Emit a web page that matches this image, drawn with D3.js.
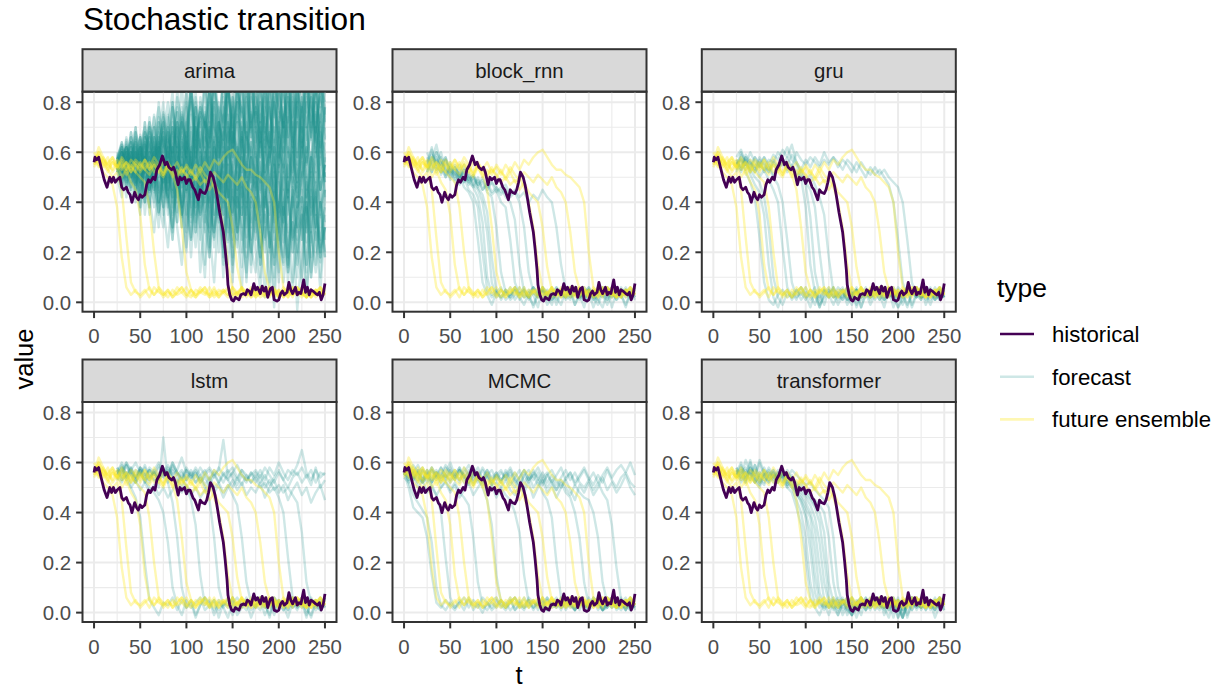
<!DOCTYPE html>
<html>
<head>
<meta charset="utf-8">
<script src="https://cdn.jsdelivr.net/npm/d3@7"></script>
<style>
  body { margin: 0; background: #fff; }
  svg { font-family: "Liberation Sans", Arial, sans-serif; }
</style>
</head>
<body>
<svg id="chart" width="1222" height="688"></svg>
<script>
// facets, in drawing order (row by row)
const panels = ['arima', 'block_rnn', 'gru', 'lstm', 'MCMC', 'transformer'];
const xTicks = [0, 50, 100, 150, 200, 250];
const yTicks = [0, 0.2, 0.4, 0.6, 0.8];
const types = ['historical', 'forecast', 'future ensemble'];
const step = 5; // runs are read every 5 time steps, values in hundredths

// historical series (same in every facet)
const histT = [0,1,3,5,7,9,11,14,17,19,21,23,25,28,30,32,35,37,39,41,44,46,48,50,52,55,57,59,61,64,66,68,71,74,77,79,81,84,86,88,91,93,95,98,100,102,104,107,109,111,113,115,117,120,122,124,126,129,131,133,136,138,140,142,144,145,147,149,151,153,155,157,159,162,164,166,168,170,173,175,177,180,182,184,186,188,191,193,195,198,200,202,204,206,209,211,213,215,218,220,222,224,227,229,231,233,235,237,240,242,244,246,248,250];
const histV = [0.56,0.58,0.57,0.58,0.55,0.52,0.49,0.46,0.50,0.48,0.50,0.48,0.49,0.50,0.46,0.45,0.46,0.44,0.43,0.40,0.44,0.42,0.41,0.43,0.42,0.43,0.47,0.49,0.48,0.50,0.49,0.53,0.55,0.585,0.55,0.56,0.54,0.53,0.54,0.52,0.47,0.50,0.49,0.50,0.475,0.49,0.49,0.46,0.45,0.43,0.41,0.45,0.44,0.435,0.45,0.48,0.52,0.50,0.47,0.43,0.36,0.32,0.28,0.21,0.13,0.07,0.03,0.01,0.005,0.02,0.015,0.01,0.03,0.035,0.03,0.05,0.045,0.03,0.075,0.05,0.06,0.035,0.065,0.045,0.06,0.02,0.055,0.06,0.01,0.005,0.01,0.035,0.045,0.03,0.04,0.08,0.05,0.035,0.06,0.03,0.04,0.035,0.09,0.04,0.06,0.03,0.05,0.045,0.035,0.03,0.04,0.01,0.03,0.075];

// future ensemble runs (same in every facet), t = 0..250
const ensembleRuns = [
  [58,55,52,50,47,38,18,6,3,5, 2,4,6,3,5,2,4,3,6,4, 2,5,3,4,6,2,3,5,4,2, 6,3,4,5,2,3,6,4,3,5, 2,4,6,3,5,3,2,4,5,3, 4],
  [55,60,56,53,50,52,45,26,8,4, 3,5,2,6,4,3,5,2,4,6, 3,2,5,4,3,6,2,4,5,3, 4,2,6,3,5,4,2,3,5,6, 3,4,2,5,3,6,4,2,5,3, 4],
  [60,57,55,58,52,55,50,53,48,45, 35,15,5,3,6,4,2,5,3,4, 6,3,2,5,4,3,6,2,4,5, 3,4,6,2,5,3,4,2,6,3, 5,2,4,3,6,4,2,5,3,4, 3],
  [56,62,58,54,57,53,55,51,54,52, 50,48,38,20,6,3,5,2,4,6, 3,5,2,4,6,3,4,2,5,3, 6,4,2,3,5,4,6,3,2,5, 4,3,5,2,6,3,4,5,2,4, 5],
  [54,58,55,52,56,54,57,53,55,52, 56,53,51,55,52,50,54,51,45,30, 12,5,3,6,4,2,5,3,4,6, 2,4,5,3,6,2,4,3,5,4, 3,6,2,5,4,3,5,2,4,6, 3],
  [57,54,58,55,53,57,54,56,52,55, 53,57,54,58,55,52,56,53,51,54, 50,53,49,52,48,50,46,40,30,15, 5,3,6,4,2,5,3,4,6,3, 2,5,4,3,6,4,2,5,3,4, 5],
  [55,59,54,56,58,55,53,56,54,57, 55,53,56,52,54,51,55,52,50,53, 51,48,50,47,49,45,48,44,42,40, 30,14,5,3,5,2,4,6,3,5, 2,4,3,6,4,2,5,3,4,6, 3],
  [56,60,57,55,58,54,56,53,57,55, 52,55,53,56,54,51,55,53,56,52, 54,51,55,52,56,53,57,55,58,60, 61,58,55,53,53,51,50,48,46,40, 20,6,4,5,3,6,4,2,5,3, 4],
  [58,55,57,53,56,54,58,55,52,56, 54,57,53,55,52,56,54,50,53,51, 55,52,50,54,51,49,52,50,48,51, 49,47,50,46,44,40,28,12,5,3, 5,2,4,6,3,5,2,4,3,6, 4]
];

// forecast runs per model
const forecastStart = [25, 25, 25, 25, 0, 25];

const arimaRuns = [
  [55,62,48,58,45,66,40,60,52,70, 38,65,45,72,35,60,50,78,30,62, 55,80,35,68,42,85,28,70,48,90, 33,75,52,88,25,68,45,82,38,72, 50,85,30,70,45,78],
  [50,42,58,45,60,38,55,35,62,40, 30,55,25,50,38,20,58,32,45,15, 50,28,40,10,55,30,22,48,8,42, 35,15,50,25,5,40,30,12,45,20, 38,3,28,45,10,35],
  [58,52,65,50,68,55,72,48,66,58, 75,52,80,60,70,85,55,78,62,88, 58,90,70,65,92,60,85,75,68,95, 72,88,60,92,78,66,90,58,85,74, 95,70,82,65,90,78],
  [52,60,45,56,40,62,35,55,48,30, 58,40,25,52,35,45,18,50,30,10, 42,25,55,15,38,8,45,28,12,40, 20,5,35,25,-2,30,15,42,8,22, 35,2,28,12,40,18],
  [56,48,62,52,44,65,50,58,38,64, 55,42,70,48,60,35,68,52,45,75, 40,62,55,30,72,50,38,66,45,58, 25,70,48,62,35,55,78,42,60,30, 65,50,38,72,45,55],
  [54,58,50,62,56,48,60,45,58,52, 48,62,40,55,65,45,52,38,60,48, 70,42,55,35,62,50,45,68,40,58, 52,35,65,48,28,60,55,42,70,38, 50,62,45,30,58,48],
  [57,50,64,55,47,60,42,58,50,35, 55,45,28,52,40,22,48,35,55,30, 18,45,38,25,50,12,42,30,48,20, 35,10,45,28,15,38,50,22,5,40, 25,45,12,35,20,30],
  [53,60,55,68,50,62,70,56,75,60, 68,80,58,72,65,84,60,78,70,90, 62,85,75,58,88,70,80,65,92,72, 78,60,90,75,68,85,72,95,62,80, 88,70,82,60,92,75],
  [55,45,58,40,52,35,50,42,28,48, 38,22,45,30,15,40,25,48,12,35, 28,8,38,20,45,15,30,5,40,22, 12,35,2,28,18,40,8,25,32,-3, 20,38,10,28,5,30],
  [56,62,52,58,65,48,60,55,70,50, 62,45,58,72,48,65,55,40,68,60, 50,75,42,62,55,80,45,65,38,70, 58,48,78,40,62,55,72,35,66,50, 80,45,60,52,75,42],
  [52,58,46,55,62,42,57,50,45,60, 40,55,50,32,58,45,62,38,52,28, 60,48,35,65,42,55,25,58,50,40, 68,30,52,45,62,22,55,40,65,35, 50,58,28,62,45,55],
  [58,54,60,50,57,63,52,68,55,62, 72,58,66,50,75,62,55,80,60,70, 85,52,72,65,90,58,75,68,50,82, 70,62,88,55,78,92,60,72,85,58, 75,90,65,80,55,85],
  [54,50,56,46,52,40,55,44,50,36, 48,42,30,52,38,45,25,50,35,42, 20,48,32,40,15,45,28,38,10,35, 42,18,30,5,38,25,45,12,32,22, 8,40,28,15,35,20],
  [55,60,52,64,48,58,66,45,62,55, 50,68,42,60,52,72,45,58,65,40, 70,55,48,75,42,62,58,35,72,52, 45,80,38,65,58,30,75,50,62,42, 70,35,58,48,82,40],
  [57,52,60,55,48,62,50,45,58,40, 52,60,35,48,55,28,50,42,58,32, 45,22,55,38,50,18,42,35,52,25, 40,15,48,30,55,20,38,8,45,28, 35,12,42,25,48,18],
  [53,57,50,60,54,47,63,58,52,66, 55,48,70,60,52,78,50,65,58,45, 72,62,55,82,48,68,60,88,52,75, 65,45,85,58,70,52,90,62,48,78, 68,55,85,60,72,50],
  [60,52,66,55,70,48,63,72,55,80, 62,75,50,85,68,58,90,65,78,55, 88,70,62,95,58,82,72,90,60,85, 75,92,65,80,55,95,70,85,62,90, 78,60,92,70,85,65],
  [48,56,42,60,50,38,58,45,66,40, 55,35,62,48,30,58,42,65,25,52, 38,60,20,50,45,28,62,35,55,15, 48,30,60,22,42,55,18,50,35,10, 45,28,58,20,40,32],
  [56,64,58,50,68,60,52,74,58,66, 80,55,70,62,88,58,75,50,82,68, 60,92,55,78,70,62,88,52,80,66, 95,58,75,85,50,70,90,60,82,55, 78,65,92,58,72,88],
  [54,47,60,52,58,44,62,50,40,58, 45,62,38,55,50,30,60,45,35,58, 22,50,42,60,30,48,55,20,45,38, 58,28,42,50,15,55,35,45,25,60, 30,48,18,52,38,45],
  [57,63,50,60,55,67,52,62,70,54, 65,58,78,52,68,60,85,55,72,62, 80,50,70,88,60,75,55,92,65,72, 58,85,68,78,52,90,64,75,88,60, 82,70,55,90,66,78],
  [52,56,62,48,58,54,44,60,50,64, 42,58,52,36,62,48,55,30,60,50, 40,65,45,55,28,60,52,38,68,42, 55,32,62,48,40,70,35,55,45,25, 60,42,52,35,65,48],
  [55,50,57,62,52,45,58,66,48,56, 70,45,62,55,38,68,52,60,42,72, 55,35,65,48,75,40,58,68,30,62, 50,72,38,58,65,28,70,45,55,80, 40,62,50,75,35,60],
  [58,55,52,60,48,57,64,50,45,62, 55,40,60,52,35,58,48,28,55,42, 62,30,48,55,25,52,40,58,22,45, 50,18,42,35,55,12,40,48,20,38, 52,15,45,30,40,25],
  [53,60,56,64,58,52,68,62,56,72, 60,68,56,76,64,58,82,66,74,60, 86,70,64,90,72,58,84,76,66,92, 70,80,62,88,74,94,66,82,70,86, 60,90,76,68,84,72],
  [56,52,48,56,60,46,54,38,58,48, 35,52,45,58,30,48,40,22,50,36, 45,28,52,18,40,35,48,25,38,12, 42,30,20,45,35,8,38,28,42,15, 32,40,10,35,25,38],
  [55,58,62,55,50,60,56,64,52,58, 66,54,62,70,50,64,58,74,55,66, 62,78,56,70,64,82,54,72,66,60, 84,62,74,56,80,68,60,86,64,72, 58,80,66,90,62,74],
  [54,61,47,56,64,50,58,44,66,55, 48,70,52,42,66,56,38,62,48,72, 45,58,66,35,62,50,72,42,56,64, 38,68,52,60,32,66,55,44,72,48, 62,36,58,70,45,55],
  [57,54,60,50,56,62,48,55,60,45, 58,50,42,62,48,55,35,58,45,52, 30,55,48,40,60,25,52,45,35,58, 28,48,55,20,45,38,52,15,42,48, 25,50,35,42,18,45],
  [55,60,54,66,58,62,55,70,62,58, 74,64,68,78,58,72,80,62,76,70, 84,66,78,72,90,62,80,74,86,68, 92,72,82,66,88,76,70,94,74,84, 68,90,78,72,86,80],
  [52,57,50,45,60,52,40,56,48,62, 38,50,58,32,55,45,60,28,52,40, 58,35,48,22,55,42,30,50,18,45, 38,52,25,40,10,48,32,45,20,38, 42,15,35,48,22,30],
  [58,52,63,57,66,53,60,68,57,64, 72,58,68,62,78,56,70,84,62,74, 66,80,58,76,86,64,72,60,88,70, 78,64,90,58,80,72,86,66,76,92, 64,82,72,88,60,78],
  [56,50,60,46,64,52,58,70,48,62, 56,74,44,66,58,80,48,70,62,52, 84,60,72,46,88,66,56,78,50,90, 64,72,48,86,60,76,54,92,68,58, 82,50,74,88,62,70],
  [54,60,52,57,44,62,50,38,60,46, 66,42,54,62,34,58,48,70,40,56, 30,62,52,44,68,36,58,48,26,64, 46,56,32,68,44,52,24,60,50,38, 66,30,54,46,20,58],
  [58,63,55,68,60,52,72,58,66,78, 60,70,84,56,76,66,90,58,80,72, 64,92,70,60,86,74,96,62,82,70, 88,64,78,94,60,84,72,66,90,76, 62,88,70,82,96,66],
  [52,48,55,60,50,42,58,52,64,44, 56,38,62,50,46,66,34,56,48,60, 28,54,64,40,50,22,60,46,56,32, 52,64,26,48,58,36,62,18,50,44, 56,28,46,60,34,52],
  [57,61,53,48,62,56,66,50,58,72, 52,64,60,76,48,68,56,82,62,54, 74,88,58,66,80,52,72,90,60,76, 56,84,68,62,92,58,74,80,52,86, 70,60,88,64,78,56],
  [55,52,58,64,54,48,66,56,44,60, 68,50,56,40,64,58,46,70,38,60, 54,66,42,58,72,36,62,50,68,44, 60,38,70,52,46,74,32,62,56,48, 70,42,58,36,64,50],
  [53,58,62,56,60,66,54,72,62,58, 76,66,60,82,70,64,88,58,78,72, 66,94,74,62,84,70,90,64,80,96, 68,86,74,62,92,78,70,88,60,84, 76,92,66,80,72,90],
  [56,52,49,58,45,54,40,50,56,36, 52,44,30,56,40,48,26,52,36,44, 18,46,34,52,24,42,38,14,48,30, 40,22,36,8,44,30,16,42,26,34, 10,38,24,44,18,30],
  [58,64,56,60,70,54,64,60,74,56, 68,62,80,58,72,66,86,60,76,70, 92,64,80,70,88,62,84,76,94,66, 82,72,90,64,86,78,70,96,66,84, 74,90,68,86,78,94],
  [54,57,51,62,47,58,63,46,57,66, 44,60,54,70,42,62,50,74,46,58, 66,40,72,54,60,78,38,66,56,48, 76,44,62,68,36,72,58,50,80,42, 64,56,72,40,68,60],
  [55,49,56,52,60,44,54,48,58,40, 50,56,36,52,46,60,32,50,44,54, 38,26,52,44,34,56,28,46,40,20, 50,36,44,22,52,34,40,14,46,30, 42,24,50,32,16,40],
  [57,62,58,66,55,60,68,62,56,74, 64,58,78,66,72,60,84,70,62,88, 72,80,66,92,74,64,86,78,70,94, 80,68,90,76,64,88,82,72,96,70, 86,76,92,68,84,74],
  [53,56,62,50,58,66,52,60,46,68, 58,48,72,56,64,44,70,60,50,76, 46,64,58,80,42,68,62,54,84,48, 70,58,66,44,82,60,52,74,64,46, 78,56,68,86,50,64],
  [56,60,54,58,63,50,56,66,54,62, 48,70,58,52,74,60,46,68,56,78, 50,64,72,44,70,60,80,52,66,58, 76,48,68,62,84,54,72,60,46,80, 62,70,52,76,58,66]
];

const blockRnnRuns = [
  [55,62,52,56,50,53,48,51,46,44, 40,25,8,3,-1,4,2,5,1,3, 6,2,4,-2,3,5,1,4,6,2, 3,5,-1,4,2,6,3,1,5,4, 2,6,3,-2,4,3],
  [58,54,60,51,55,49,52,47,50,45, 43,38,20,5,2,4,6,1,3,5, 2,-1,4,6,3,2,5,1,4,3, 6,2,4,3,-2,5,1,4,6,2, 4,1,5,3,6,2],
  [52,57,63,55,58,52,54,50,52,48, 46,42,32,10,3,5,1,4,2,6, 3,5,2,-1,4,6,3,2,5,4, 1,3,6,2,5,4,-2,3,5,1, 6,4,2,5,3,4],
  [60,55,53,58,51,56,50,53,49,51, 47,45,40,28,8,2,5,3,6,1, 4,2,5,3,-2,6,4,1,3,5, 2,6,4,3,1,5,2,-1,4,6, 3,2,5,4,1,6],
  [54,59,56,52,57,53,51,55,50,48, 50,46,43,36,18,4,2,5,3,6, 1,4,2,6,3,5,-1,2,4,5, 3,1,6,2,4,5,3,1,-2,4, 6,3,5,2,4,1],
  [57,52,58,54,50,55,52,49,53,47, 50,46,48,44,42,30,12,4,2,5, 3,6,1,4,2,5,3,-1,6,4, 2,5,3,1,4,6,2,5,3,-1, 4,2,6,3,5,2],
  [53,56,60,57,52,54,49,52,48,50, 46,49,45,47,43,45,40,38,25,8, 3,5,2,6,4,1,3,5,-1,4, 6,2,3,5,1,4,2,6,3,5, -2,4,3,6,2,5],
  [56,61,54,52,57,51,53,50,55,49, 51,47,50,46,48,44,46,42,40,33, 15,4,2,5,3,6,1,4,2,-1, 5,3,6,2,4,1,5,3,2,6, 4,1,3,5,2,4],
  [52,58,55,60,53,50,54,51,48,52, 47,50,45,48,44,46,43,45,42,44, 40,30,12,4,2,5,3,6,1,4, 2,5,-1,3,6,4,2,5,3,1, 4,6,2,5,3,4],
  [55,52,57,54,58,52,55,50,53,49, 51,47,49,45,48,46,44,47,43,45, 42,44,40,43,41,45,42,40,30,15, 5,3,6,2,4,5,1,3,6,4, 2,5,3,-1,4,6]
];

const gruRuns = [
  [55,58,52,48,42,26,8,1,-1,3, 5,2,4,1,6,3,-2,4,2,5, 3,6,1,4,2,-1,5,3,4,2, 6,3,1,5,-2,4,2,6,3,4, 1,5,3,2,6,4],
  [57,53,56,51,47,44,35,15,2,-2, 3,5,1,4,6,2,3,-1,5,4, 2,6,3,1,4,5,-2,3,6,2, 4,1,5,3,2,6,4,-1,3,5, 2,4,6,1,3,5],
  [52,59,55,53,50,48,42,30,10,2, -1,4,2,5,3,6,1,4,-2,3, 5,2,6,4,1,3,5,2,4,-1, 3,6,2,4,5,1,3,-2,4,6, 2,5,3,1,4,2],
  [56,54,58,52,55,50,53,49,45,40, 22,6,2,5,1,4,3,6,-1,2, 4,5,3,1,6,2,4,-2,3,5, 1,4,6,3,2,5,-1,4,3,6, 2,3,5,1,4,6],
  [58,61,55,57,53,56,52,54,50,47, 40,25,8,2,4,1,5,3,-2,4, 6,2,3,5,1,4,-1,6,2,3, 5,4,1,3,6,2,4,5,-2,3, 1,6,4,2,5,3],
  [55,52,57,54,58,55,53,57,56,60, 58,62,57,55,50,38,15,4,1,5, 3,-1,4,2,6,3,5,1,4,2, 6,3,-2,5,1,4,2,6,3,5, 4,1,3,6,2,5],
  [53,57,55,60,56,54,58,55,59,57, 61,58,63,56,52,47,34,12,3,-1, 5,2,4,6,1,3,5,-2,4,2, 3,6,1,4,5,2,3,6,-1,4, 2,5,3,4,1,6],
  [56,53,58,55,52,57,53,55,51,54, 57,53,55,52,50,48,45,38,20,5, 2,4,-1,3,6,1,5,2,4,3, 5,1,4,6,2,-2,3,5,4,2, 6,3,1,4,5,2],
  [54,60,56,53,58,54,56,52,55,53, 56,52,54,50,53,49,51,47,42,35, 18,4,2,5,-1,3,6,2,4,1, 5,3,6,2,4,-2,1,5,3,6, 2,4,5,3,1,4],
  [57,54,59,56,52,55,58,53,56,54, 57,55,59,56,53,57,54,58,55,60, 56,58,54,57,55,52,56,53,50,54, 51,53,50,47,40,25,8,3,5,2, 6,-1,4,3,5,2],
  [55,57,53,56,54,58,55,52,57,54, 55,58,54,60,57,55,58,56,54,57, 55,58,56,53,57,55,52,56,53,51, 54,51,53,50,48,46,40,25,8,2, 5,3,-1,4,6,2]
];

const lstmRuns = [
  [55,58,53,50,46,38,20,5,2,-1, 4,3,6,1,5,2,4,-2,3,6, 2,5,1,4,3,6,-1,2,5,4, 3,1,6,4,2,5,3,-2,4,1, 5,3,6,2,4,3],
  [57,53,59,55,52,56,53,50,48,45, 40,28,10,3,-1,5,2,4,6,1, 3,5,-2,4,2,6,1,3,5,4, 2,6,3,-1,5,4,1,3,6,2, 4,-2,5,3,1,6],
  [56,60,55,58,54,57,52,55,53,50, 70,52,44,30,10,2,5,-1,3,6, 4,1,5,2,-2,4,6,3,1,5, 3,6,2,4,-1,5,3,1,6,4, 2,5,4,1,3,6],
  [53,57,60,56,54,58,55,57,53,56, 54,58,55,52,54,50,45,35,15,3, 5,-1,4,2,6,3,1,5,4,-2, 3,6,2,5,1,4,3,6,2,5, 4,1,-1,5,3,6],
  [58,54,56,52,57,55,59,54,56,53, 57,55,60,56,53,57,55,52,54,50, 45,30,10,3,5,-1,4,2,6,1, 3,5,4,-2,6,2,4,1,5,3, 6,2,4,3,1,5],
  [55,58,54,57,60,56,53,57,55,58, 56,54,58,55,57,53,56,52,55,51, 54,50,52,48,51,47,43,30,12,4, 2,5,-1,3,6,4,1,5,2,4, 6,3,-2,4,5,2],
  [54,56,59,55,52,57,54,58,56,53, 57,55,59,56,54,58,55,57,53,56, 58,55,57,69,54,56,53,57,55,52, 54,50,52,48,50,46,40,22,6,2, 5,-1,4,3,6,2],
  [57,53,55,58,54,56,52,57,55,59, 55,57,54,52,56,53,57,54,58,55, 53,56,52,55,57,54,51,55,53,56, 52,55,50,53,49,51,48,50,47,44, 32,12,4,5,2,6],
  [56,59,54,57,53,58,55,52,57,54, 58,55,60,56,53,57,54,56,52,55, 57,54,58,55,53,56,59,55,52,56, 54,57,53,58,55,60,56,53,57,55, 58,54,57,52,56,55],
  [54,52,56,50,53,49,52,48,51,47, 50,46,49,52,48,51,47,50,46,49, 52,48,51,46,50,53,49,52,47,50, 48,52,46,50,53,48,51,45,49,52, 47,50,44,48,51,45],
  [58,55,60,57,54,58,56,53,57,60, 56,59,55,57,62,56,54,58,55,57, 53,57,55,52,56,58,54,57,53,55, 57,54,58,55,52,56,53,57,55,59, 65,56,53,57,54,56],
  [55,57,53,56,52,55,58,54,56,53, 55,52,57,54,50,55,53,56,52,54, 51,55,52,56,53,50,54,51,55,52, 56,52,55,51,54,57,53,50,54,56, 52,55,51,58,50,53]
];

const mcmcRuns = [
  [56,50,42,40,38,30,15,4,2,5, 3,1,4,6,2,5,3,0,4,2, 5,3,1,4,6,2,3,5,1,4, 2,6,3,4,1,5,2,3,6,4, 1,3,5,2,4,6,3,1,4,2, 5],
  [57,52,47,44,41,38,28,10,3,1, 4,2,5,3,6,1,4,2,3,5, 6,2,4,1,3,5,2,6,4,3, 1,5,3,2,4,6,3,1,5,2, 4,3,6,1,2,5,4,3,2,6, 3],
  [58,55,53,57,52,54,50,47,40,22, 6,2,4,1,5,3,2,6,4,1, 3,5,2,4,6,3,1,5,2,4, 6,1,3,5,2,4,3,6,1,5, 2,4,3,1,6,5,2,4,3,1, 4],
  [55,58,54,57,53,55,52,56,50,53, 49,52,48,46,43,30,12,3,1,4, 2,5,3,6,1,4,2,3,5,1, 4,6,2,3,5,1,4,2,6,3, 1,5,3,4,2,6,1,3,5,2, 4],
  [57,53,56,59,55,52,57,54,58,55, 53,56,52,58,55,51,54,50,45,35, 15,4,2,5,1,3,6,2,4,3, 5,1,4,2,6,3,5,1,3,4, 2,6,4,1,3,5,2,4,6,1, 3],
  [56,59,55,52,57,54,58,55,53,56, 60,55,58,54,57,53,56,52,55,51, 52,50,47,45,40,32,15,4,2,5, 3,1,4,6,2,5,3,1,4,2, 6,3,5,1,4,2,3,6,1,5, 2],
  [55,57,53,56,58,54,57,53,55,59, 56,53,57,55,52,56,54,58,55,52, 56,53,55,51,54,57,52,55,50,53, 48,45,38,20,6,2,4,1,5,3, 2,6,4,1,3,5,2,4,3,6, 1],
  [58,54,56,53,57,55,52,56,54,58, 55,57,53,56,59,55,52,54,57,53, 55,52,56,53,50,54,57,53,55,51, 54,50,53,49,52,48,46,40,30,12, 3,5,1,4,2,6,3,4,1,5, 3],
  [56,53,57,54,52,55,58,54,56,53, 57,54,56,52,55,58,54,51,55,57, 53,56,54,57,53,50,55,52,56,54, 51,55,52,49,53,50,47,51,48,46, 45,40,30,12,4,2,5,3,1,4, 2],
  [57,55,59,56,53,57,54,56,52,55, 58,54,57,55,52,56,53,57,54,51, 55,52,57,54,56,53,50,54,57,53, 56,52,55,51,54,57,53,56,52,50, 53,49,52,48,45,35,18,5,2,4, 3],
  [55,58,54,56,53,57,52,55,58,54, 56,53,57,54,51,55,58,53,56,52, 55,57,53,56,52,54,57,53,55,58, 54,56,52,55,58,53,56,51,54,57, 53,56,52,55,58,54,57,59,56,60, 55],
  [54,52,55,50,53,48,51,47,50,52, 48,51,46,49,52,47,50,53,48,51, 46,50,53,49,47,51,48,52,46,50, 53,48,51,46,50,53,49,45,51,48, 52,47,50,54,49,52,48,51,55,50, 47],
  [56,54,57,55,52,56,53,57,54,55, 52,55,58,54,56,52,55,53,57,54, 56,53,55,58,54,51,55,57,53,56, 52,55,57,53,50,54,56,52,55,58, 54,51,55,52,57,53,50,54,56,52, 50]
];

const transformerRuns = [
  [58,52,55,61,53,50,55,52,54,56, 54,50,48,42,35,22,6,2,-1,4, 3,6,2,5,1,4,-2,3,6,2, 5,3,1,4,6,2,5,-1,3,4, 2,5,3,6,1,4],
  [56,60,53,58,55,52,57,53,55,52, 56,52,50,45,40,30,12,3,5,1, 4,2,-1,5,3,6,2,4,1,5, 3,6,2,-2,4,5,1,3,6,2, 4,1,5,3,2,6],
  [55,57,52,60,54,51,56,54,57,53, 55,51,53,48,44,38,25,8,2,4, -1,5,3,2,6,4,1,3,5,2, 4,6,-1,3,5,2,4,1,6,3, 5,2,4,-2,3,6],
  [57,54,61,56,52,55,53,56,52,55, 53,50,52,47,45,40,32,15,4,2, 5,1,4,6,-1,3,2,5,4,1, 6,3,2,5,4,-2,3,6,1,4, 2,5,3,1,6,4],
  [55,58,56,53,59,54,52,55,57,54, 52,55,50,48,46,42,38,25,8,3, 2,5,-1,4,6,3,1,5,2,4, 3,6,4,1,5,-2,2,4,6,3, 5,1,4,2,6,3],
  [54,57,53,58,55,61,56,53,55,52, 56,53,51,49,47,44,40,33,18,5, 2,4,6,1,3,-1,5,2,4,6, 3,1,5,4,2,6,-2,3,5,1, 4,6,2,5,3,1],
  [56,53,57,55,59,53,51,56,54,57, 55,52,54,50,48,46,43,38,28,12, 4,2,5,-1,3,6,2,4,1,5, 6,3,2,4,-2,5,1,3,6,4, 2,5,1,4,6,3],
  [58,55,52,57,54,60,55,52,56,53, 57,53,55,51,49,47,45,42,36,22, 6,3,1,5,4,-1,2,6,3,5, 1,4,6,2,3,5,-2,4,1,6, 3,5,2,4,6,1],
  [55,59,54,56,52,55,58,54,56,52, 55,51,54,50,52,48,46,43,40,32, 12,4,2,5,1,-1,4,6,3,2, 5,3,6,1,4,2,-2,5,3,6, 1,4,2,5,3,6],
  [57,54,56,53,57,52,55,57,53,56, 54,57,53,52,50,49,47,45,43,40, 30,12,3,5,2,-1,4,6,1,3, 5,2,4,6,3,1,5,-2,4,2, 6,3,5,1,4,2],
  [54,56,58,55,52,56,54,58,55,53, 56,54,57,55,53,51,52,49,47,45, 42,30,10,3,5,1,4,-1,6,2, 4,5,2,3,6,1,-2,4,5,3, 2,6,4,1,5,3]
];

const forecastRuns = [arimaRuns, blockRnnRuns, gruRuns, lstmRuns, mcmcRuns, transformerRuns];

// ---- layout ----
const colX = [82.5, 392.5, 701.8];
const rowTop = [91.7, 402.0];
const panelW = 254, panelH = 220, stripH = 42.5;
const colors = { historical: '#440154', forecast: '#21908C', ensemble: '#FDE725' };
const axisFont = 20.4, stripFont = 20.4;

const svg = d3.select('#chart');
const x = d3.scaleLinear().domain([-12.5, 262.5]).range([0, panelW]);
const y = d3.scaleLinear().domain([-0.0375, 0.842]).range([panelH, 0]);
const line = d3.line().x(d => x(d[0])).y(d => y(d[1]));
const toPts = (vals, start) => vals.map((v, i) => [start + step * i, v / 100]);
const histPts = histT.map((t, i) => [t, histV[i]]);

svg.append('text')
  .attr('x', 83).attr('y', 30)
  .attr('font-size', 31.6).attr('fill', '#000')
  .text('Stochastic transition');

panels.forEach((name, idx) => {
  const px = colX[idx % 3], py = rowTop[Math.floor(idx / 3)];
  const g = svg.append('g').attr('transform', `translate(${px},${py})`);

  // strip
  g.append('rect').attr('x', 0).attr('y', -stripH).attr('width', panelW).attr('height', stripH)
    .attr('fill', '#D9D9D9').attr('stroke', '#333333').attr('stroke-width', 2);
  g.append('text').attr('x', panelW / 2).attr('y', -stripH / 2 + 7.3)
    .attr('text-anchor', 'middle').attr('font-size', stripFont).attr('fill', '#1A1A1A').text(name);

  // grid
  const minorX = [25, 75, 125, 175, 225], minorY = [0.1, 0.3, 0.5, 0.7];
  g.selectAll('.mx').data(minorX).join('line')
    .attr('x1', d => x(d)).attr('x2', d => x(d)).attr('y1', 0).attr('y2', panelH)
    .attr('stroke', '#EBEBEB').attr('stroke-width', 1.1);
  g.selectAll('.my').data(minorY).join('line')
    .attr('y1', d => y(d)).attr('y2', d => y(d)).attr('x1', 0).attr('x2', panelW)
    .attr('stroke', '#EBEBEB').attr('stroke-width', 1.1);
  g.selectAll('.gx').data(xTicks).join('line')
    .attr('x1', d => x(d)).attr('x2', d => x(d)).attr('y1', 0).attr('y2', panelH)
    .attr('stroke', '#EBEBEB').attr('stroke-width', 2);
  g.selectAll('.gy').data(yTicks).join('line')
    .attr('y1', d => y(d)).attr('y2', d => y(d)).attr('x1', 0).attr('x2', panelW)
    .attr('stroke', '#EBEBEB').attr('stroke-width', 2);

  // lines, clipped to the panel
  const clipId = `clip-${idx}`;
  g.append('clipPath').attr('id', clipId).append('rect')
    .attr('width', panelW).attr('height', panelH);
  const lg = g.append('g').attr('clip-path', `url(#${clipId})`);

  forecastRuns[idx].forEach(run => {
    lg.append('path').attr('d', line(toPts(run, forecastStart[idx])))
      .attr('fill', 'none').attr('stroke', colors.forecast)
      .attr('stroke-opacity', 0.22).attr('stroke-width', 2.4).attr('stroke-linejoin', 'round');
  });
  ensembleRuns.forEach(run => {
    lg.append('path').attr('d', line(toPts(run, 0)))
      .attr('fill', 'none').attr('stroke', colors.ensemble)
      .attr('stroke-opacity', 0.35).attr('stroke-width', 2.4).attr('stroke-linejoin', 'round');
  });
  lg.append('path').attr('d', line(histPts))
    .attr('fill', 'none').attr('stroke', colors.historical)
    .attr('stroke-width', 2.8).attr('stroke-linejoin', 'round');

  // border
  g.append('rect').attr('width', panelW).attr('height', panelH)
    .attr('fill', 'none').attr('stroke', '#333333').attr('stroke-width', 2);

  // axes
  g.selectAll('.tx').data(xTicks).join('line')
    .attr('x1', d => x(d)).attr('x2', d => x(d)).attr('y1', panelH).attr('y2', panelH + 6.4)
    .attr('stroke', '#333333').attr('stroke-width', 2);
  g.selectAll('.lx').data(xTicks).join('text')
    .attr('x', d => x(d)).attr('y', panelH + 31.6).attr('text-anchor', 'middle')
    .attr('font-size', axisFont).attr('fill', '#4D4D4D').text(d => d);
  g.selectAll('.ty').data(yTicks).join('line')
    .attr('x1', -6.4).attr('x2', 0).attr('y1', d => y(d)).attr('y2', d => y(d))
    .attr('stroke', '#333333').attr('stroke-width', 2);
  g.selectAll('.ly').data(yTicks).join('text')
    .attr('x', -11.5).attr('y', d => y(d) + 7.3).attr('text-anchor', 'end')
    .attr('font-size', axisFont).attr('fill', '#4D4D4D').text(d3.format('.1f'));
});

// axis titles
svg.append('text').attr('x', 519).attr('y', 684).attr('text-anchor', 'middle')
  .attr('font-size', 25.6).attr('fill', '#000').text('t');
svg.append('text').attr('transform', 'translate(33,359) rotate(-90)').attr('text-anchor', 'middle')
  .attr('font-size', 25.6).attr('fill', '#000').text('value');

// legend
const legend = svg.append('g').attr('transform', 'translate(997,0)');
legend.append('text').attr('x', 0).attr('y', 297).attr('font-size', 26.5).attr('fill', '#000').text('type');
const keyStyle = [
  { c: colors.historical, o: 1 },
  { c: colors.forecast, o: 0.22 },
  { c: colors.ensemble, o: 0.35 }
];
types.forEach((t, i) => {
  const cy = 334 + i * 42.7;
  legend.append('line').attr('x1', 3).attr('x2', 37).attr('y1', cy).attr('y2', cy)
    .attr('stroke', keyStyle[i].c).attr('stroke-opacity', keyStyle[i].o).attr('stroke-width', 2.6);
  legend.append('text').attr('x', 55).attr('y', cy + 8)
    .attr('font-size', 22.2).attr('fill', '#000').text(t);
});
</script>
</body>
</html>
